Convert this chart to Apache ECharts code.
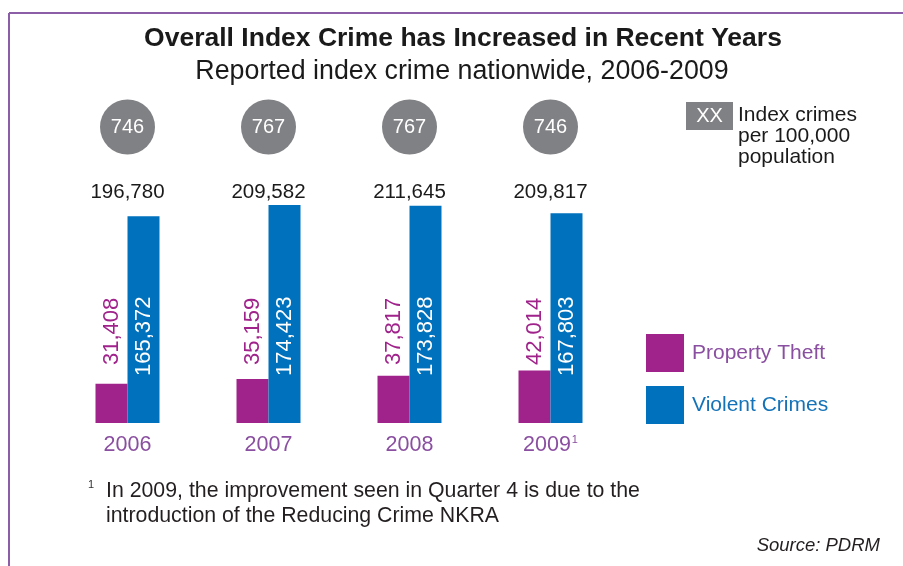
<!DOCTYPE html>
<html>
<head>
<meta charset="utf-8">
<script src="https://cdn.jsdelivr.net/npm/echarts@6/dist/echarts.min.js"></script>
<style>html,body{margin:0;padding:0;background:#fff}#c{width:903px;height:566px}</style>
</head>
<body>
<div id="c"></div>
<script>
var years = ['2006', '2007', '2008', '2009'];
var propertyTheft = [31408, 35159, 37817, 42014];
var violentCrimes = [165372, 174423, 173828, 167803];
var totals = [196780, 209582, 211645, 209817];
var ratesPer100k = [746, 767, 767, 746];

var FONT = '"Liberation Sans", Arial, Helvetica, sans-serif';
var PURPLE = '#A0228B';
var BLUE = '#0071BC';
var LABEL_PURPLE = '#8A4FA0';

function fmt(v) { return v.toLocaleString('en-US'); }

var chart = echarts.init(document.getElementById('c'), null, { renderer: 'canvas' });
chart.setOption({
  backgroundColor: '#fff',
  animation: false,
  textStyle: { fontFamily: FONT },
  title: [
    { text: 'Overall Index Crime has Increased in Recent Years', left: 458, top: 20, textAlign: 'center',
      textStyle: { fontFamily: FONT, fontSize: 26.5, fontWeight: 'bold', color: '#1a1a1a' } },
    { text: 'Reported index crime nationwide, 2006-2009', left: 457, top: 53, textAlign: 'center',
      textStyle: { fontFamily: FONT, fontSize: 26.8, fontWeight: 'normal', color: '#1a1a1a' } }
  ],
  grid: { left: 57, right: 282, top: 173, bottom: 143 },
  xAxis: {
    type: 'category', data: years,
    axisLine: { show: false }, axisTick: { show: false },
    axisLabel: {
      interval: 0, margin: 11, fontFamily: FONT, fontSize: 21.5, color: LABEL_PURPLE,
      formatter: function (v) { return v === '2009' ? v + '{sup|1}' : v; },
      rich: { sup: { fontSize: 11, color: LABEL_PURPLE, verticalAlign: 'top', padding: [0, 0, 10, 1] } }
    }
  },
  yAxis: { type: 'value', min: 0, max: 200000, show: false, splitLine: { show: false } },
  legend: {
    orient: 'vertical', left: 646, top: 334, padding: 0, itemWidth: 38, itemHeight: 38, itemGap: 14,
    icon: 'rect', selectedMode: false,
    textStyle: { fontFamily: FONT, fontSize: 21, padding: [0, 0, 0, 3] },
    data: [
      { name: 'Property Theft', textStyle: { color: LABEL_PURPLE } },
      { name: 'Violent Crimes', textStyle: { color: '#1473B8' } }
    ]
  },
  series: [
    {
      name: 'Property Theft', type: 'bar', data: propertyTheft, barWidth: 32, barGap: '0%',
      itemStyle: { color: PURPLE },
      label: { show: true, position: 'insideBottom', distance: 58, rotate: 90, align: 'left', verticalAlign: 'middle',
        fontFamily: FONT, fontSize: 22, color: PURPLE, formatter: function (p) { return fmt(p.value); } }
    },
    {
      name: 'Violent Crimes', type: 'bar', data: violentCrimes, barWidth: 32,
      itemStyle: { color: BLUE },
      label: { show: true, position: 'insideBottom', distance: 47, rotate: 90, align: 'left', verticalAlign: 'middle',
        fontFamily: FONT, fontSize: 22, color: '#fff', formatter: function (p) { return fmt(p.value); } }
    },
    {
      name: 'rates', type: 'custom', silent: true, z: 5,
      data: years.map(function (y, i) { return [i, 0]; }),
      renderItem: function (params, api) {
        var x = api.coord([api.value(0), 0])[0];
        var i = params.dataIndex;
        return {
          type: 'group',
          children: [
            { type: 'circle', shape: { cx: x, cy: 127, r: 27.5 }, style: { fill: '#808184' } },
            { type: 'text', style: { x: x, y: 127, text: String(ratesPer100k[i]), fill: '#fff', font: '20px ' + FONT, align: 'center', verticalAlign: 'middle' } },
            { type: 'text', style: { x: x, y: 192, text: fmt(totals[i]), fill: '#1a1a1a', font: '20.5px ' + FONT, align: 'center', verticalAlign: 'middle' } }
          ]
        };
      }
    }
  ],
  graphic: [
    { type: 'line', shape: { x1: 9, y1: 13, x2: 903, y2: 13 }, style: { stroke: '#8C5EA8', lineWidth: 2 } },
    { type: 'line', shape: { x1: 9, y1: 13, x2: 9, y2: 566 }, style: { stroke: '#8C5EA8', lineWidth: 2 } },
    { type: 'rect', shape: { x: 686, y: 102, width: 47, height: 28 }, style: { fill: '#808184' } },
    { type: 'text', style: { x: 709.5, y: 116, text: 'XX', fill: '#fff', font: '20px ' + FONT, align: 'center', verticalAlign: 'middle' } },
    { type: 'text', style: { x: 738, y: 136, text: 'Index crimes\nper 100,000\npopulation', fill: '#1a1a1a', font: '21px ' + FONT, lineHeight: 21, align: 'left', verticalAlign: 'middle' } },
    { type: 'text', style: { x: 88, y: 485, text: '1', fill: '#333', font: '11px ' + FONT, align: 'left', verticalAlign: 'middle' } },
    { type: 'text', style: { x: 106, y: 491, text: 'In 2009, the improvement seen in Quarter 4 is due to the', fill: '#231f20', font: '21.3px ' + FONT, align: 'left', verticalAlign: 'middle' } },
    { type: 'text', style: { x: 106, y: 516, text: 'introduction of the Reducing Crime NKRA', fill: '#231f20', font: '21.3px ' + FONT, align: 'left', verticalAlign: 'middle' } },
    { type: 'text', style: { x: 880, y: 546, text: 'Source: PDRM', fill: '#231f20', font: 'italic 18.5px ' + FONT, align: 'right', verticalAlign: 'middle' } }
  ]
});
</script>
</body>
</html>
